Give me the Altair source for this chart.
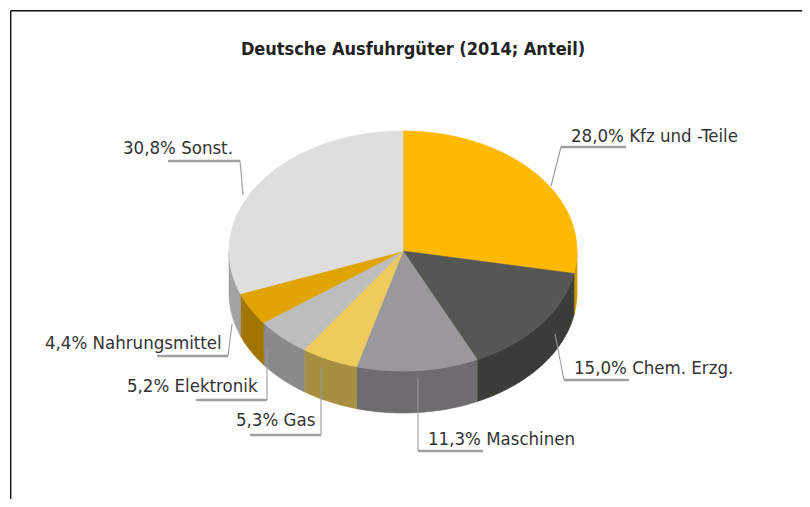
import math
import altair as alt
import pandas as pd

# chart values
names = ["Kfz und -Teile", "Chem. Erzg.", "Maschinen", "Gas", "Elektronik", "Nahrungsmittel", "Sonst."]
shares = [28.0, 15.0, 11.3, 5.3, 5.2, 4.4, 30.8]
top_colors = ["#FFB900", "#555752", "#9A989A", "#EECB5C", "#BDBDBD", "#E0A400", "#DEDEDE"]
wall_colors = ["#CC9400", "#3A3C38", "#6E6C6E", "#A68F40", "#8A8A8A", "#A07500", "#A3A3A3"]
title_text = "Deutsche Ausfuhrgüter (2014; Anteil)"

# layout of the pie and of the labels, in page pixels
W, H = 794, 491
CX, CY, RX, RY, DEPTH = 403, 251, 174, 120, 42
label_left = [571, 574, 428, 236, 127, 45, 123]
label_base = [142, 374, 445, 426, 392, 349, 154]
leader_x = [[551, 561, 626], [555, 564, 629], [418, 418, 483], [321, 321, 250],
            [267, 267, 196], [232, 228, 157], [243, 240, 168]]
leader_y = [[186, 147, 147], [334, 380, 380], [379, 451, 451], [367, 435, 435],
            [346, 400, 400], [324, 356, 356], [195, 161, 161]]


def rim(deg, drop=0.0):
    a = math.radians(deg)
    return CX + RX * math.sin(a), CY - RY * math.cos(a) + drop


def arc(a0, a1):
    n = max(2, int((a1 - a0) / 1.0) + 1)
    return [a0 + (a1 - a0) * i / (n - 1) for i in range(n)]


top_rows, wall_rows = [], []
start = 0.0
for name, share, tc, wc in zip(names, shares, top_colors, wall_colors):
    end = start + share * 3.6
    pts = [(CX, CY)] + [rim(d) for d in arc(start, end)]
    for i, (x, y) in enumerate(pts):
        top_rows.append(dict(name=name, i=i, x=x, y=y, c=tc))
    lo, hi = max(start, 90.0), min(end, 270.0)
    if lo < hi:
        angles = arc(lo, hi)
        pts = [rim(d) for d in angles] + [rim(d, DEPTH) for d in reversed(angles)]
        for i, (x, y) in enumerate(pts):
            wall_rows.append(dict(name=name, i=i, x=x, y=y, c=wc))
    start = end

leader_rows, under_rows = [], []
for name, xs, ys in zip(names, leader_x, leader_y):
    for i in range(2):
        leader_rows.append(dict(name=name, i=i, x=xs[i], y=ys[i]))
    for i in (1, 2):
        under_rows.append(dict(name=name, i=i, x=xs[i], y=ys[i]))

label_df = pd.DataFrame(dict(
    text=[f"{s:.1f}% {n}".replace(".", ",", 1) for s, n in zip(shares, names)],
    x=label_left, y=label_base))

xs = alt.Scale(domain=[8, 8 + W], range=[0, W], nice=False, zero=False)
ys = alt.Scale(domain=[8, 8 + H], range=[0, H], nice=False, zero=False)
X = alt.X("x:Q", scale=xs, axis=None)
Y = alt.Y("y:Q", scale=ys, axis=None)


def polygons(rows):
    return alt.Chart(pd.DataFrame(rows)).mark_line(
        interpolate="linear-closed", filled=True, strokeWidth=0.6
    ).encode(x=X, y=Y, detail="name:N", order="i:Q", fill=alt.Fill("c:N", scale=None, legend=None),
             stroke=alt.Stroke("c:N", scale=None, legend=None))


walls = polygons(wall_rows)
tops = polygons(top_rows)

leaders = alt.Chart(pd.DataFrame(leader_rows)).mark_line(color="#9A9A9A", strokeWidth=1.1).encode(
    x=X, y=Y, detail="name:N", order="i:Q")
unders = alt.Chart(pd.DataFrame(under_rows)).mark_line(color="#A0A0A0", strokeWidth=2.4).encode(
    x=X, y=Y, detail="name:N", order="i:Q")

labels = alt.Chart(label_df).mark_text(
    align="left", baseline="alphabetic", font="DejaVu Sans Condensed", fontSize=18.5, color="#333333"
).encode(x=X, y=Y, text="text:N")

frame_df = pd.DataFrame(dict(x=[10.7], x2=[8 + W], y=[10.7], y2=[8 + H]))
frame_v = alt.Chart(frame_df).mark_rule(color="#111111", strokeWidth=1.4).encode(x=X, y=Y, y2="y2:Q")
frame_h = alt.Chart(frame_df).mark_rule(color="#111111", strokeWidth=1.4).encode(x=X, x2="x2:Q", y=Y)

chart = alt.layer(frame_v, frame_h, walls, tops, unders, leaders, labels).properties(
    width=W, height=H, padding=0, autosize=alt.AutoSizeParams(type="none"),
    title=alt.TitleParams(title_text, font="DejaVu Sans Condensed", fontSize=18, fontWeight="bold",
                          color="#222222", anchor="middle", offset=0, dx=8, dy=65, baseline="alphabetic"),
).configure_view(stroke=None)

chart.save("out.html", embed_options={"renderer": "svg", "actions": False})
